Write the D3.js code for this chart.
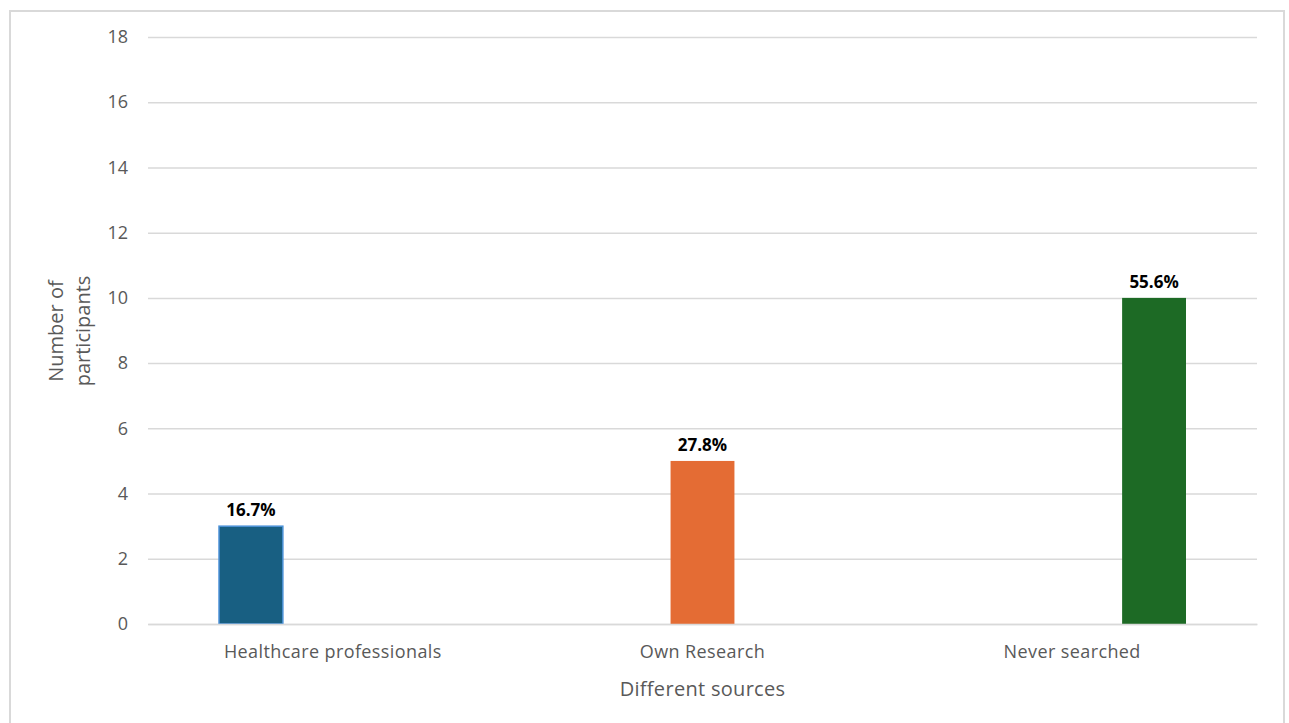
<!DOCTYPE html>
<html>
<head>
<meta charset="utf-8">
<script src="https://cdn.jsdelivr.net/npm/d3@7"></script>
<style>
  body { margin: 0; background: #fff; }
  text { font-family: "Open Sans", "Liberation Sans", sans-serif; }
</style>
</head>
<body>
<script>
// categories and series (Excel-style clustered bars, one series per source)
var categories = ["Healthcare professionals", "Own Research", "Never searched"];
var seriesNames = ["Healthcare professionals", "Own Research", "Never searched"];
var counts = [3, 5, 10];
var pctLabels = ["16.7%", "27.8%", "55.6%"];
var yTicks = [0, 2, 4, 6, 8, 10, 12, 14, 16, 18];
var colors = ["#185f82", "#e46c34", "#1d6a25"];

var W = 1289, H = 723;
var margin = {top: 37, right: 32, bottom: 99, left: 148};
var width = W - margin.left - margin.right,
    height = H - margin.top - margin.bottom;

var svg = d3.select("body").append("svg")
  .attr("width", W).attr("height", H);

// chart frame
svg.append("rect")
  .attr("x", 10).attr("y", 11)
  .attr("width", 1274).attr("height", 720)
  .attr("fill", "#fff")
  .attr("stroke", "#d9d9d9").attr("stroke-width", 2);

var g = svg.append("g")
  .attr("transform", "translate(" + margin.left + "," + margin.top + ")");

var x0 = d3.scaleBand().domain(categories).range([0, width]).paddingInner(0).paddingOuter(0);
var x1 = d3.scaleBand().domain(seriesNames).range([71, x0.bandwidth() - 71]).paddingInner(0.22).paddingOuter(0);
var y = d3.scaleLinear().domain([0, 18]).range([height, 0]);

// gridlines
var yAxis = d3.axisLeft(y).tickValues(yTicks).tickSize(-width).tickPadding(20);
var yg = g.append("g").call(yAxis);
yg.select(".domain").remove();
yg.selectAll(".tick line").attr("stroke", "#d9d9d9").attr("stroke-width", 1.5);
yg.selectAll(".tick text").attr("fill", "#595959").style("font-size", "18px");

// bars
var data = categories.map(function (c, i) {
  return {cat: c, series: seriesNames[i], value: counts[i], label: pctLabels[i], color: colors[i]};
});

g.selectAll(".bar").data(data).enter().append("rect")
  .attr("class", "bar")
  .attr("x", function (d) { return x0(d.cat) + x1(d.series); })
  .attr("y", function (d) { return y(d.value); })
  .attr("width", x1.bandwidth())
  .attr("height", function (d) { return y(0) - y(d.value); })
  .attr("fill", function (d) { return d.color; })
  .attr("stroke", function (d, i) { return i === 0 ? "#4d93d9" : "none"; })
  .attr("stroke-width", 1.5);

g.selectAll(".lbl").data(data).enter().append("text")
  .attr("x", function (d) { return x0(d.cat) + x1(d.series) + x1.bandwidth() / 2; })
  .attr("y", function (d) { return y(d.value) - 10; })
  .attr("text-anchor", "middle")
  .style("font-size", "17px").style("font-weight", "bold")
  .attr("fill", "#000")
  .text(function (d) { return d.label; });

// x axis
var xAxis = d3.axisBottom(x0).tickSize(0).tickPadding(21);
var xg = g.append("g").attr("transform", "translate(0," + height + ")").call(xAxis);
xg.select(".domain").attr("stroke", "#d9d9d9").attr("stroke-width", 1.5);
xg.selectAll(".tick text").attr("fill", "#595959")
  .style("font-size", "18px").style("letter-spacing", "0.4px");

// axis titles
svg.append("text")
  .attr("x", margin.left + width / 2).attr("y", 696)
  .attr("text-anchor", "middle")
  .attr("fill", "#595959").style("font-size", "20px").style("letter-spacing", "0.3px")
  .text("Different sources");

var yt = svg.append("text")
  .attr("transform", "translate(63,331) rotate(-90)")
  .attr("text-anchor", "middle")
  .attr("fill", "#595959").style("font-size", "20px");
yt.append("tspan").attr("x", 0).attr("dy", 0).text("Number of");
yt.append("tspan").attr("x", 0).attr("dy", 27).text("participants");
</script>
</body>
</html>
